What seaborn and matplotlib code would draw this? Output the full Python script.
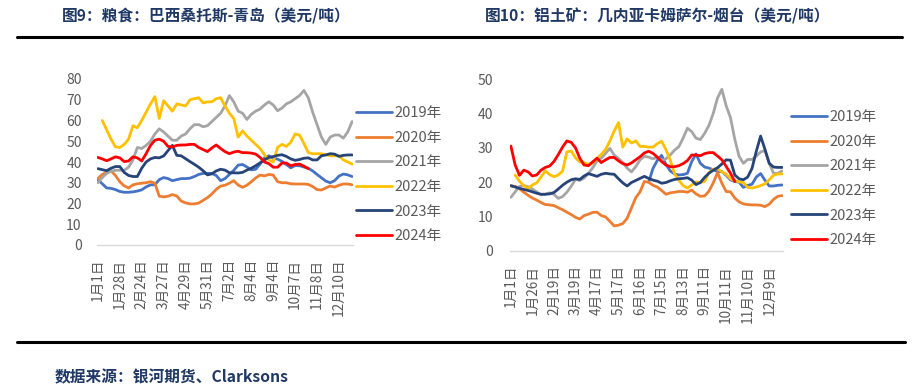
import numpy as np
import pandas as pd
import matplotlib
matplotlib.use("Agg")
import matplotlib.pyplot as plt
from matplotlib.lines import Line2D
import seaborn as sns

nan = np.nan

# 图9：粮食 巴西桑托斯-青岛（美元/吨）
grain_labels = ['1月1日', '1月28日', '2月24日', '3月27日', '4月29日', '5月31日',
                '7月2日', '8月4日', '9月4日', '10月7日', '11月8日', '12月10日']
grain_2019 = [31.5, 29.5, 27.5, 27.3, 26.7, 25.8, 25.4, 25.4, 25.6, 26.0,
              26.6, 28.0, 29.0, 29.0, 31.5, 32.5, 32.0, 31.0, 31.5, 32.0,
              32.0, 32.2, 33.0, 34.0, 34.5, 34.5, 34.5, 33.5, 31.0, 32.0,
              34.0, 36.0, 38.5, 38.8, 37.6, 36.2, 36.5, 39.0, 42.0, 43.0,
              41.8, 41.4, 40.3, 38.8, 37.2, 38.3, 38.2, 37.6, 37.0, 35.7,
              34.0, 32.4, 30.8, 30.0, 31.0, 33.2, 34.2, 33.8, 33.0]
grain_2020 = [32.0, 34.0, 35.0, 35.8, 33.5, 30.5, 28.5, 27.5, 29.0, 29.5,
              29.8, 30.0, 30.5, 29.8, 23.5, 23.2, 23.5, 24.3, 23.6, 21.2,
              20.3, 19.8, 19.8, 20.2, 21.5, 22.8, 24.6, 26.8, 28.4, 28.8,
              29.8, 31.0, 28.9, 27.8, 28.8, 30.5, 32.3, 33.7, 33.3, 34.0,
              33.7, 30.5, 30.0, 30.0, 29.5, 29.4, 29.4, 29.4, 29.2, 28.2,
              26.7, 26.5, 27.5, 28.4, 27.9, 28.8, 29.4, 29.4, 29.0]
grain_2021 = [30.0, 32.5, 34.5, 35.5, 36.0, 36.0, 36.0, 37.5, 41.0, 47.0,
              46.5, 48.0, 50.0, 53.5, 56.0, 54.5, 52.5, 50.5, 50.5, 52.5,
              53.5, 56.0, 58.0, 58.0, 57.0, 57.5, 59.5, 61.5, 63.5, 67.0,
              72.0, 69.0, 64.5, 63.5, 60.5, 63.0, 64.5, 65.5, 67.5, 69.0,
              67.5, 64.7, 66.0, 68.0, 69.0, 70.5, 72.0, 74.5, 71.0, 64.0,
              58.0, 52.0, 48.5, 52.0, 53.0, 53.0, 51.5, 54.5, 59.5]
grain_2022 = [nan, 60.0, 55.5, 51.0, 47.3, 47.0, 48.5, 51.0, 57.5, 56.5,
              60.0, 64.0, 68.0, 71.5, 61.0, 69.5, 67.0, 64.5, 68.0, 67.5,
              67.0, 70.0, 70.5, 71.0, 68.5, 69.0, 69.0, 70.5, 71.0, 67.0,
              63.5, 61.0, 52.0, 55.0, 52.5, 50.5, 48.5, 46.5, 43.5, 41.0,
              40.0, 47.0, 48.5, 47.5, 49.5, 53.5, 53.0, 49.0, 44.5, 44.0,
              44.0, 44.0, 43.5, 43.0, 43.0, 43.0, 41.0, 40.0, 39.0]
grain_2023 = [36.8, 36.3, 35.8, 37.0, 37.8, 37.8, 35.0, 33.5, 33.0, 33.0,
              37.0, 40.0, 41.5, 42.2, 42.0, 42.9, 45.5, 48.0, 43.2, 43.0,
              41.6, 40.2, 38.9, 37.5, 35.8, 33.8, 34.3, 35.7, 36.5, 36.1,
              34.8, 34.8, 34.7, 35.0, 36.1, 37.0, 38.2, 39.6, 41.0, 42.2,
              42.6, 43.2, 43.5, 42.7, 41.5, 40.8, 41.2, 41.8, 42.0, 41.0,
              41.0, 43.0, 43.4, 44.0, 43.8, 42.7, 43.2, 43.4, 43.4]
grain_2024 = [42.2, 41.5, 40.6, 41.5, 42.5, 42.0, 40.2, 40.5, 42.5, 42.0,
              40.5, 44.0, 48.0, 50.5, 51.0, 50.0, 47.5, 47.3, 48.0, 48.2,
              48.2, 48.5, 48.5, 47.0, 46.0, 45.0, 46.8, 48.2, 46.5, 45.0,
              44.0, 44.8, 45.2, 44.5, 44.5, 44.3, 43.8, 42.2, 40.0, 39.2,
              37.5, 37.5, 39.5, 39.5, 38.2, 38.8, 39.0, 38.0, 36.8, nan,
              nan, nan, nan, nan, nan, nan, nan, nan, nan]

# 图10：铝土矿 几内亚卡姆萨尔-烟台（美元/吨）
bx_labels = ['1月1日', '1月26日', '2月19日', '3月19日', '4月17日', '5月17日', '6月16日',
             '7月15日', '8月13日', '9月11日', '10月11日', '11月10日', '12月9日']
bx_2019 = [nan] * 32 + [
    20.0, 24.0, 26.3, 27.8, 25.2, 23.3, 22.4, 22.1, 22.2, 22.6,
    26.0, 28.2, 25.5, 24.4, 24.1, 23.6, 23.1, 23.1, 22.0, 20.7,
    20.2, 20.0, 18.5, 19.1, 19.4, 21.5, 22.5, 20.6, 18.9, 18.9,
    19.1, 19.2]
bx_2020 = [18.9, 18.8, 18.1, 17.1, 16.2, 15.4, 14.8, 14.1, 13.5, 13.4,
           13.2, 12.6, 12.0, 11.3, 10.6, 9.8, 9.3, 10.3, 10.7, 11.2,
           11.3, 10.3, 9.9, 8.6, 7.3, 7.5, 8.0, 9.5, 12.5, 15.5,
           17.2, 20.2, 20.0, 19.1, 18.6, 17.6, 16.5, 16.9, 17.1, 17.3,
           17.3, 17.1, 17.7, 16.6, 15.9, 16.0, 17.4, 19.8, 22.8, 19.7,
           17.3, 17.2, 15.4, 14.3, 13.7, 13.5, 13.4, 13.4, 13.3, 12.9,
           13.6, 15.0, 15.9, 16.1]
bx_2021 = [15.6, 17.2, 18.8, 19.0, 18.7, 18.0, 17.2, 16.3, 16.5, 16.9,
           16.5, 15.3, 15.8, 17.1, 18.8, 20.8, 20.5, 21.2, 22.5, 24.2,
           26.1, 27.0, 28.4, 29.8, 27.9, 26.9, 25.7, 24.1, 23.0, 24.5,
           26.5, 27.5, 27.3, 26.8, 27.2, 26.3, 26.8, 27.9, 29.3, 30.3,
           32.8, 35.7, 34.7, 32.8, 32.4, 34.2, 36.5, 40.0, 44.5, 47.0,
           42.2, 38.8, 32.5, 27.5, 25.5, 26.6, 26.6, 27.6, 28.8, 29.2,
           25.5, 22.6, 22.6, 23.3]
bx_2022 = [nan, 22.1, 20.3, 19.0, 18.2, 19.2, 19.8, 21.5, 23.3, 22.2,
           21.6, 22.1, 23.2, 28.8, 29.1, 27.1, 25.9, 25.7, 25.2, 25.6,
           26.8, 28.1, 29.5, 32.0, 34.9, 37.3, 30.2, 32.6, 31.4, 32.0,
           30.4, 30.4, 30.2, 30.2, 31.2, 31.9, 29.5, 26.5, 22.5, 20.6,
           19.0, 18.3, 19.2, 20.1, 19.9, 20.2, 22.8, 23.8, 23.9, 23.0,
           22.3, 21.0, 20.4, 20.1, 19.9, 18.5, 18.3, 18.6, 19.0, 19.5,
           20.7, 22.0, 22.4, 22.4]
bx_2023 = [19.0, 18.6, 18.2, 17.9, 17.6, 17.2, 16.8, 16.5, 16.5, 16.6,
           17.0, 18.0, 19.1, 20.0, 20.7, 21.0, 20.8, 21.8, 22.5, 22.1,
           21.7, 22.3, 22.6, 22.4, 22.3, 21.0, 19.8, 18.9, 19.9, 20.5,
           21.1, 21.7, 21.1, 20.6, 20.3, 19.7, 19.9, 20.4, 20.8, 21.0,
           21.1, 21.3, 20.6, 19.3, 19.9, 21.4, 22.6, 23.5, 24.2, 25.3,
           26.5, 26.4, 22.1, 21.0, 20.7, 21.5, 24.0, 29.0, 33.4, 29.6,
           25.5, 24.4, 24.3, 24.3]
bx_2024 = [30.5, 25.0, 22.0, 23.5, 23.0, 21.8, 22.1, 23.5, 24.3, 24.7,
           26.0, 28.0, 30.2, 32.0, 31.6, 30.0, 27.0, 25.0, 24.8, 25.9,
           27.0, 25.7, 26.5, 27.2, 27.2, 26.2, 25.4, 25.0, 25.6, 26.5,
           27.4, 28.5, 29.0, 28.4, 27.3, 26.0, 25.0, 24.5, 24.5, 24.8,
           25.4, 26.3, 27.9, 27.9, 27.7, 28.3, 28.6, 28.6, 27.6, 26.5,
           24.6, 22.6, 20.2] + [nan] * 11

years = ['2019年', '2020年', '2021年', '2022年', '2023年', '2024年']
colors = ['#4472C4', '#ED7D31', '#A5A5A5', '#FFC000', '#264478', '#FF0000']

sns.set_theme(style='white')
plt.rcParams['font.family'] = ['Noto Sans CJK SC', 'DejaVu Sans']

GREY_TXT = '#595959'
NAVY = '#1F3864'


def to_long(series_list):
    frames = []
    for year, vals in zip(years, series_list):
        frames.append(pd.DataFrame({'idx': np.arange(len(vals)), 'year': year, 'val': vals}))
    return pd.concat(frames).dropna()


def draw_panel(ax, series_list, labels, ymax, leg_anchor, ypad):
    df = to_long(series_list)
    n = len(series_list[0])
    sns.lineplot(data=df, x='idx', y='val', hue='year', hue_order=years,
                 palette=colors, linewidth=2, ax=ax, legend=False)
    ax.set_xlim(-0.2, n - 0.8)
    ax.set_ylim(0, ymax)
    ax.set_yticks(range(0, ymax + 1, 10))
    ax.set_xticks(range(0, n, 5))
    ax.set_xticklabels(labels, rotation=90, va='top', ha='center')
    ax.set_xlabel('')
    ax.set_ylabel('')
    for s in ['top', 'right', 'left']:
        ax.spines[s].set_visible(False)
    ax.spines['bottom'].set_color('#D9D9D9')
    ax.spines['bottom'].set_linewidth(1)
    ax.tick_params(axis='x', length=0, pad=10, labelsize=9.8, labelcolor=GREY_TXT)
    ax.tick_params(axis='y', length=0, pad=ypad, labelsize=10, labelcolor=GREY_TXT)
    handles = [Line2D([], [], color=c, lw=2) for c in colors]
    ax.legend(handles, years, loc='upper left', bbox_to_anchor=leg_anchor,
              bbox_transform=ax.figure.transFigure, frameon=False,
              fontsize=10.5, labelcolor=GREY_TXT, handlelength=2.5,
              handletextpad=0.15, labelspacing=0.73, borderpad=0,
              borderaxespad=0)


fig = plt.figure(figsize=(9.14, 3.89), dpi=100)
W, H = 914, 389

ax1 = fig.add_axes([97 / W, 1 - 245 / H, 256 / W, 166 / H])
draw_panel(ax1, [grain_2019, grain_2020, grain_2021, grain_2022, grain_2023, grain_2024],
           grain_labels, 80, (356 / W, 1 - 106 / H), 11)

ax2 = fig.add_axes([510 / W, 1 - 251 / H, 273 / W, 172 / H])
draw_panel(ax2, [bx_2019, bx_2020, bx_2021, bx_2022, bx_2023, bx_2024],
           bx_labels, 50, (791 / W, 1 - 110 / H), 12)

# titles, rules and source note
fig.text(62 / W, 1 - 16 / H, '图9：粮食：巴西桑托斯-青岛（美元/吨）', fontsize=11.3,
         fontweight='bold', color=NAVY, va='center', ha='left')
fig.text(485 / W, 1 - 16 / H, '图10：铝土矿：几内亚卡姆萨尔-烟台（美元/吨）', fontsize=11.3,
         fontweight='bold', color=NAVY, va='center', ha='left')
fig.add_artist(Line2D([17 / W, 902 / W], [1 - 37 / H, 1 - 37 / H], color='black', lw=2.2))
fig.add_artist(Line2D([17 / W, 905 / W], [1 - 342 / H, 1 - 342 / H], color='black', lw=2.2))
fig.text(55 / W, 1 - 377 / H, '数据来源：银河期货、Clarksons', fontsize=11.3,
         fontweight='bold', color=NAVY, va='center', ha='left')

fig.savefig('out.png', dpi=100)
